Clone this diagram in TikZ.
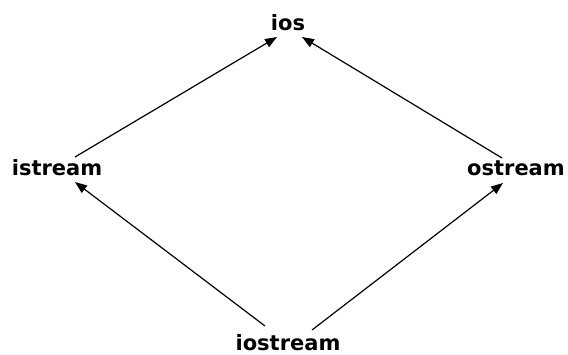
\documentclass[tikz,border=0pt]{standalone}
\usepackage{fontspec}
\setmainfont{DejaVu Sans}
\usepackage{tikz}
\usetikzlibrary{arrows.meta,calc,positioning}

\begin{document}
\begin{tikzpicture}[x=1pt,y=-1pt,
  cls/.style={anchor=base,inner sep=0pt,font=\fontsize{21}{24}\selectfont\bfseries},
  inh/.style={-{Triangle[length=12pt,width=9pt]},line width=1.2pt}]
\useasboundingbox (0,0) rectangle (568,354);

% Classes
\node[cls] (ios) at (288,30) {ios};
\node[cls] (istream) at (57,175) {istream};
\node[cls] (ostream) at (516,175) {ostream};
\node[cls] (iostream) at (288,350) {iostream};

% Inheritance arrows
\draw[inh] ([shift={(18,-18)}]istream.base) -- ([shift={(-11,7)}]ios.base);
\draw[inh] ([shift={(-14,-17)}]ostream.base) -- ([shift={(14,7)}]ios.base);
\draw[inh] ([shift={(-23,-24)}]iostream.base) -- ([shift={(18,7)}]istream.base);
\draw[inh] ([shift={(24,-20)}]iostream.base) -- ([shift={(-13,8)}]ostream.base);
\end{tikzpicture}
\end{document}
